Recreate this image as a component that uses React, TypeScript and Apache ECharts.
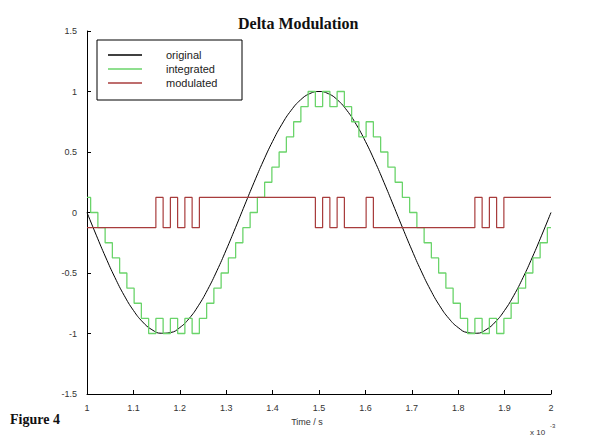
import React, { useEffect, useRef } from "react";
import * as echarts from "echarts";

// time axis in ms (shown as x 10^-3 s)
const T_START = 1;
const CLOCK_STEP = 1 / 64; // modulator clock spacing
const ORIGINAL_STEP = 0.02; // spacing of the read-off points of the original curve

const originalValues = [
  0, -0.1874, -0.3681, -0.5358, -0.6845, -0.809, -0.9048, -0.9686, -0.998, -0.9921,
  -0.9511, -0.8763, -0.7705, -0.6374, -0.4818, -0.309, -0.1253, 0.0628, 0.2487, 0.4258,
  0.5878, 0.729, 0.8443, 0.9298, 0.9823, 1.0, 0.9823, 0.9298, 0.8443, 0.729,
  0.5878, 0.4258, 0.2487, 0.0628, -0.1253, -0.309, -0.4818, -0.6374, -0.7705, -0.8763,
  -0.9511, -0.9921, -0.998, -0.9686, -0.9048, -0.809, -0.6845, -0.5358, -0.3681, -0.1874,
  0,
];

const integratedValues = [
  0.125, 0, -0.125, -0.25, -0.375, -0.5, -0.625, -0.75, -0.875, -1,
  -0.875, -1, -0.875, -1, -0.875, -1,
  -0.875, -0.75, -0.625, -0.5, -0.375, -0.25, -0.125, 0, 0.125, 0.25, 0.375, 0.5, 0.625, 0.75, 0.875, 1,
  0.875, 1, 0.875, 1, 0.875, 0.75, 0.625, 0.75,
  0.625, 0.5, 0.375, 0.25, 0.125, 0, -0.125, -0.25, -0.375, -0.5, -0.625, -0.75, -0.875, -1,
  -0.875, -1, -0.875, -1,
  -0.875, -0.75, -0.625, -0.5, -0.375, -0.25, -0.125,
];

const modulatedValues = [
  -0.125, -0.125, -0.125, -0.125, -0.125, -0.125, -0.125, -0.125, -0.125, -0.125,
  0.125, -0.125, 0.125, -0.125, 0.125, -0.125,
  0.125, 0.125, 0.125, 0.125, 0.125, 0.125, 0.125, 0.125, 0.125, 0.125, 0.125, 0.125, 0.125, 0.125, 0.125, 0.125,
  -0.125, 0.125, -0.125, 0.125, -0.125, -0.125, -0.125, 0.125,
  -0.125, -0.125, -0.125, -0.125, -0.125, -0.125, -0.125, -0.125, -0.125, -0.125, -0.125, -0.125, -0.125, -0.125,
  0.125, -0.125, 0.125, -0.125,
  0.125, 0.125, 0.125, 0.125, 0.125, 0.125, 0.125,
];

const seriesNames = ["original", "integrated", "modulated"];
const seriesColors = ["#000000", "#6ad46a", "#a83c3c"];

const X_MIN = 1;
const X_MAX = 2;
const X_INTERVAL = 0.1;
const Y_MIN = -1.5;
const Y_MAX = 1.5;
const Y_INTERVAL = 0.5;

export default function App() {
  const ref = useRef<HTMLDivElement>(null);

  useEffect(() => {
    document.body.style.margin = "0";
    const chart = echarts.init(ref.current!, undefined, { renderer: "svg" });

    const originalData = originalValues.map((v, i) => [T_START + i * ORIGINAL_STEP, v]);
    const integratedData = integratedValues.map((v, i) => [T_START + i * CLOCK_STEP, v]);
    const modulatedData = modulatedValues.map((v, i) => [T_START + i * CLOCK_STEP, v]);

    const fmt = (v: number) => String(Math.round(v * 10) / 10);
    const labelStyle = {
      fontFamily: "Liberation Sans",
      fontSize: 9,
      color: "#333",
    };

    const legendTop = 55;
    const legendGap = 14;

    chart.setOption({
      animation: false,
      backgroundColor: "#ffffff",
      title: {
        text: "Delta Modulation",
        left: 233,
        top: 10,
        textStyle: {
          fontFamily: "Liberation Serif",
          fontWeight: "bold",
          fontSize: 16,
          color: "#111",
        },
      },
      grid: { left: 87, top: 31, width: 464, height: 363 },
      xAxis: {
        type: "value",
        min: X_MIN,
        max: X_MAX,
        interval: X_INTERVAL,
        axisLine: { onZero: false, lineStyle: { color: "#000", width: 1 } },
        axisTick: { inside: true, length: 4, lineStyle: { color: "#000" } },
        axisLabel: { ...labelStyle, formatter: fmt, margin: 9 },
        splitLine: { show: false },
      },
      yAxis: {
        type: "value",
        min: Y_MIN,
        max: Y_MAX,
        interval: Y_INTERVAL,
        axisLine: { show: true, onZero: false, lineStyle: { color: "#000", width: 1 } },
        axisTick: { show: true, inside: true, length: 4, lineStyle: { color: "#000" } },
        axisLabel: { ...labelStyle, formatter: fmt, margin: 10 },
        splitLine: { show: false },
      },
      series: [
        {
          name: seriesNames[0],
          type: "line",
          data: originalData,
          symbol: "none",
          smooth: true,
          lineStyle: { color: seriesColors[0], width: 1 },
          z: 2,
        },
        {
          name: seriesNames[1],
          type: "line",
          step: "middle",
          data: integratedData,
          symbol: "none",
          lineStyle: { color: seriesColors[1], width: 1.3 },
          z: 3,
        },
        {
          name: seriesNames[2],
          type: "line",
          step: "middle",
          data: modulatedData,
          symbol: "none",
          lineStyle: { color: seriesColors[2], width: 1.2 },
          z: 4,
        },
      ],
      graphic: [
        {
          type: "rect",
          shape: { x: 97, y: 40, width: 145, height: 60 },
          style: { fill: "#fff", stroke: "#000", lineWidth: 1 },
          z: 10,
        },
        ...seriesNames.flatMap((name, i) => [
          {
            type: "line",
            shape: { x1: 108, y1: legendTop + i * legendGap, x2: 142, y2: legendTop + i * legendGap },
            style: { stroke: seriesColors[i], lineWidth: i === 0 ? 1.5 : 1.3 },
            z: 11,
          },
          {
            type: "text",
            x: 166,
            y: legendTop + i * legendGap,
            style: {
              text: name,
              fontFamily: "Liberation Sans",
              fontSize: 11,
              fill: "#222",
              align: "left",
              verticalAlign: "middle",
            },
            z: 11,
          },
        ]),
        {
          type: "text",
          x: 307,
          y: 422,
          style: {
            text: "Time / s",
            fontFamily: "Liberation Sans",
            fontSize: 9,
            fill: "#333",
            align: "center",
            verticalAlign: "middle",
          },
        },
        {
          type: "text",
          x: 530,
          y: 432,
          style: {
            text: "x 10",
            fontFamily: "Liberation Sans",
            fontSize: 8,
            fill: "#333",
            align: "left",
            verticalAlign: "middle",
          },
        },
        {
          type: "text",
          x: 550,
          y: 426,
          style: {
            text: "-3",
            fontFamily: "Liberation Sans",
            fontSize: 6,
            fill: "#333",
            align: "left",
            verticalAlign: "middle",
          },
        },
        {
          type: "text",
          x: 10,
          y: 419,
          style: {
            text: "Figure 4",
            fontFamily: "Liberation Serif",
            fontWeight: "bold",
            fontSize: 14,
            fill: "#111",
            align: "left",
            verticalAlign: "middle",
          },
        },
      ],
    });

    return () => chart.dispose();
  }, []);

  return (
    <div
      ref={ref}
      style={{ position: "fixed", left: 0, top: 0, width: 608, height: 436 }}
    />
  );
}
